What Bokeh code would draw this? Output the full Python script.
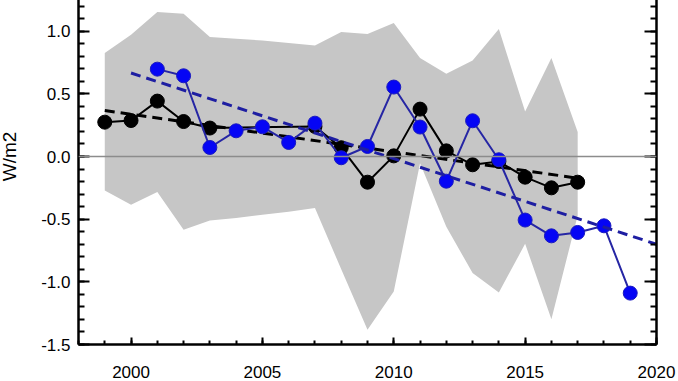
from bokeh.plotting import figure
from bokeh.models import (Range1d, LinearAxis, SingleIntervalTicker, PrintfTickFormatter,
                          CustomJSTickFormatter, Span)
from bokeh.embed import file_html
from bokeh.resources import INLINE

# ---------------- data ----------------
band_years = [1999, 2000, 2001, 2002, 2003, 2004, 2005, 2006, 2007, 2008,
              2009, 2010, 2011, 2012, 2013, 2014, 2015, 2016, 2017]
band_upper = [0.825, 0.971, 1.152, 1.139, 0.953, 0.94, 0.925, 0.905, 0.886, 0.993,
              0.977, 1.065, 0.785, 0.66, 0.766, 1.017, 0.359, 0.785, 0.195]
band_lower = [-0.271, -0.385, -0.284, -0.585, -0.51, -0.49, -0.465, -0.44, -0.41, -0.9,
              -1.383, -1.077, -0.053, -0.56, -0.93, -1.085, -0.697, -1.298, -0.47]

black_years = [1999, 2000, 2001, 2002, 2003, 2007, 2008, 2009, 2010, 2011,
               2012, 2013, 2014, 2015, 2016, 2017]
black_vals = [0.274, 0.287, 0.442, 0.279, 0.227, 0.24, 0.07, -0.205, 0.005, 0.378,
              0.045, -0.066, -0.04, -0.165, -0.25, -0.205]

blue_years = [2001, 2002, 2003, 2004, 2005, 2006, 2007, 2008, 2009, 2010,
              2011, 2012, 2013, 2014, 2015, 2016, 2017, 2018, 2019]
blue_vals = [0.697, 0.644, 0.072, 0.205, 0.237, 0.112, 0.266, -0.01, 0.08, 0.554,
             0.235, -0.197, 0.285, -0.026, -0.507, -0.633, -0.606, -0.553, -1.09]

black_trend_x = [1999, 2017]
black_trend_y = [0.367, -0.173]
blue_trend_x = [2000, 2020]
blue_trend_y = [0.666, -0.70]

y_label = "W/m2"

# ---------------- figure ----------------
# The original panel runs from -1.5 to 1.5; its top part is cropped away,
# so the figure is shifted up by 32px (and 4px to the left).
FONT = "Liberation Sans"
p = figure(width=682, height=413, output_backend="svg", toolbar_location=None,
           x_range=Range1d(1998, 2020), y_range=Range1d(-1.5, 1.5),
           min_border_left=80, min_border_right=22, min_border_top=0, min_border_bottom=37,
           x_axis_location=None, y_axis_location=None)
p.styles = {"margin-top": "-32px", "margin-left": "-4px"}
p.outline_line_color = None
p.grid.visible = False
p.background_fill_color = "white"
p.border_fill_color = "white"

def style_axis(ax, major_in, minor_in):
    ax.axis_line_width = 2.5
    ax.axis_line_color = "black"
    ax.major_tick_in = major_in
    ax.major_tick_out = 0
    ax.minor_tick_in = minor_in
    ax.minor_tick_out = 0
    ax.major_tick_line_width = 2
    ax.minor_tick_line_width = 2
    ax.major_tick_line_color = "black"
    ax.minor_tick_line_color = "black"
    ax.major_label_text_font = FONT
    ax.major_label_text_font_size = "17px"
    ax.major_label_text_color = "black"

yticker = SingleIntervalTicker(interval=0.5, num_minor_ticks=5)
xticker = SingleIntervalTicker(interval=5, num_minor_ticks=5)

left = LinearAxis(ticker=yticker, formatter=PrintfTickFormatter(format="%.1f"),
                  axis_label=y_label, major_label_overrides={1.5: ""})
style_axis(left, 11, 6)
left.major_label_standoff = 8
left.axis_label_standoff = 18
left.axis_label_text_font = FONT
left.axis_label_text_font_size = "19px"
left.axis_label_text_font_style = "normal"
left.axis_label_text_color = "black"
p.add_layout(left, "left")

right = LinearAxis(ticker=yticker, formatter=CustomJSTickFormatter(code="return ''"))
style_axis(right, 12, 6)
right.major_label_standoff = 0
p.add_layout(right, "right")

below = LinearAxis(ticker=xticker)
style_axis(below, 7, 4)
below.major_label_standoff = 21
p.add_layout(below, "below")

# grey band
p.varea(x=band_years, y1=band_lower, y2=band_upper, fill_color="#c6c6c6")

# zero line
p.add_layout(Span(location=0, dimension="width", line_color="#8c8c8c", line_width=1.5))

# black series
p.line(black_years, black_vals, line_color="black", line_width=2)
p.scatter(black_years, black_vals, size=14, fill_color="black", line_color="black")
p.line(black_trend_x, black_trend_y, line_color="black", line_width=3, line_dash="10 6")

# blue series
p.line(blue_years, blue_vals, line_color="#2626a4", line_width=2)
p.scatter(blue_years, blue_vals, size=14, fill_color="#0505f5", line_color="#1a1ac0")
p.line(blue_trend_x, blue_trend_y, line_color="#1e1ea2", line_width=3, line_dash="10 6")

open("out.html", "w").write(file_html(p, INLINE))
